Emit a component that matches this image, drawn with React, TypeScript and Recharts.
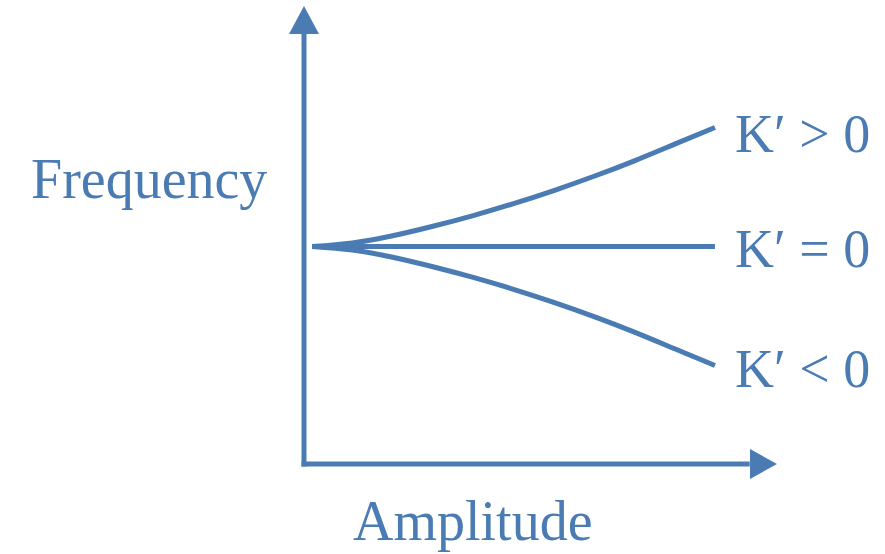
import { LineChart, Line, XAxis, YAxis, ReferenceLine, ReferenceDot } from "recharts";

const BLUE = "#4a7bb3";
const FONT = '"Liberation Serif", "Times New Roman", serif';

// amplitude samples and the frequency response for each sign of K'
const amplitude = [0, 0.1, 0.2, 0.3, 0.4, 0.5, 0.6, 0.7, 0.8, 0.9, 1.0];
const hardening = [1.0, 1.03, 1.09, 1.17, 1.26, 1.36, 1.47, 1.59, 1.72, 1.86, 2.0];
const linear = [1.0, 1.0, 1.0, 1.0, 1.0, 1.0, 1.0, 1.0, 1.0, 1.0, 1.0];
const softening = [1.0, 0.97, 0.91, 0.83, 0.74, 0.64, 0.53, 0.41, 0.28, 0.14, 0.0];

const seriesLabels = ["K′ > 0", "K′ = 0", "K′ < 0"];

const data = amplitude.map((a, i) => ({
  a,
  up: hardening[i],
  flat: linear[i],
  down: softening[i],
}));

const X_MIN = -0.02;
const X_MAX = 1.154;
const Y_MIN = -0.828;
const Y_MAX = 3.021;

// only the last point gets the K' text
const endLabel = (text: string, dy: number) => (props: any) => {
  const { x, y, index } = props;
  if (index !== amplitude.length - 1) return null;
  return (
    <text x={x + 20} y={y + dy} fill={BLUE} fontSize={54} fontFamily={FONT}>
      {text}
    </text>
  );
};

const UpArrow = (props: any) => {
  const { cx, cy } = props;
  return <polygon points={`${cx},${cy} ${cx - 15},${cy + 28} ${cx + 15},${cy + 28}`} fill={BLUE} />;
};

const RightArrow = (props: any) => {
  const { cx, cy } = props;
  return <polygon points={`${cx},${cy} ${cx - 27},${cy - 15} ${cx - 27},${cy + 15}`} fill={BLUE} />;
};

export default function App() {
  return (
    <div style={{ position: "absolute", left: 0, top: 0, width: 885, height: 554, background: "#fff" }}>
      <LineChart width={885} height={554} data={data} margin={{ top: 6, left: 304, right: 108, bottom: 90 }}>
        <XAxis dataKey="a" type="number" domain={[X_MIN, X_MAX]} hide />
        <YAxis type="number" domain={[Y_MIN, Y_MAX]} hide width={0} />

        {/* axes */}
        <ReferenceLine
          segment={[{ x: X_MIN, y: Y_MIN }, { x: X_MIN, y: 2.8 }]}
          stroke={BLUE}
          strokeWidth={5}
          strokeLinecap="square"
        />
        <ReferenceLine
          segment={[{ x: X_MIN, y: Y_MIN }, { x: 1.08, y: Y_MIN }]}
          stroke={BLUE}
          strokeWidth={5}
          strokeLinecap="square"
        />
        <ReferenceDot x={X_MIN} y={Y_MAX} shape={UpArrow} />
        <ReferenceDot x={X_MAX} y={Y_MIN} shape={RightArrow} />

        <Line
          dataKey="up"
          type="natural"
          stroke={BLUE}
          strokeWidth={5}
          dot={false}
          isAnimationActive={false}
          label={endLabel(seriesLabels[0], 25)}
        />
        <Line
          dataKey="flat"
          type="natural"
          stroke={BLUE}
          strokeWidth={5}
          dot={false}
          isAnimationActive={false}
          label={endLabel(seriesLabels[1], 21)}
        />
        <Line
          dataKey="down"
          type="natural"
          stroke={BLUE}
          strokeWidth={5}
          dot={false}
          isAnimationActive={false}
          label={endLabel(seriesLabels[2], 22)}
        />

        <text x={31} y={198} fill={BLUE} fontSize={56} fontFamily={FONT}>
          Frequency
        </text>
        <text x={353} y={540} fill={BLUE} fontSize={56} fontFamily={FONT}>
          Amplitude
        </text>
      </LineChart>
    </div>
  );
}
